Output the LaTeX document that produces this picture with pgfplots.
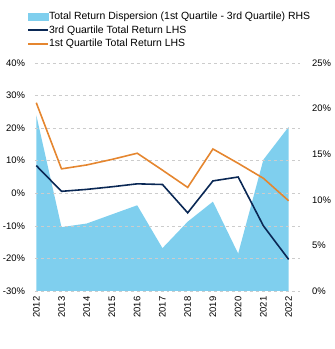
\documentclass[border=0pt]{standalone}
\usepackage{fontspec}
\setmainfont{Liberation Sans}
\usepackage{pgfplots}
\pgfplotsset{compat=1.18}
\definecolor{areablue}{RGB}{127,207,238}
\definecolor{navy}{RGB}{10,40,85}
\definecolor{orng}{RGB}{229,134,47}
\pgfplotsset{
  linelegend/.style={legend image code/.code={\draw[##1] (0bp,0bp) -- (20bp,0bp);}},
  arealegend/.style={legend image code/.code={\fill[areablue] (0bp,-3.4bp) rectangle (19.5bp,3.4bp);}},
}
\pgfplotstableread{
year area q3 q1
2012 19.3 8.5 27.8
2013 7.0 0.6 7.5
2014 7.4 1.2 8.7
2015 8.4 2.0 10.4
2016 9.4 2.9 12.3
2017 4.7 2.7 7.1
2018 7.6 -6.0 1.8
2019 9.8 3.8 13.6
2020 4.1 5.0 9.2
2021 14.4 -10.0 4.6
2022 18.0 -20.3 -2.3
}\datatable
\begin{document}
\begin{tikzpicture}
\path[use as bounding box] (0,0) rectangle (335bp,349bp);
\pgfplotsset{every axis/.style={
  width=265bp, height=228bp, scale only axis,
  at={(35bp,58bp)}, anchor=south west,
  xmin=2011.95, xmax=2022.45,
  font=\fontsize{9.5}{11}\selectfont,
  /pgf/number format/assume math mode=true,
  /pgf/number format/1000 sep={},
  tick style={draw=none},
}}
\begin{axis}[
  axis y line*=right, axis x line=none,
  axis line style={draw=none},
  ymin=0, ymax=25, ytick={0,5,...,25},
  yticklabel={\pgfmathprintnumber{\tick}\%},
  yticklabel style={anchor=west, xshift=8.5bp},
]
\addplot[fill=areablue, draw=none] table[x=year,y=area]{\datatable} \closedcycle;
\end{axis}
\begin{axis}[
  axis y line*=left, axis x line*=bottom,
  axis line style={draw=none},
  ymin=-30, ymax=40, ytick={-30,-20,...,40},
  yticklabel={\pgfmathprintnumber{\tick}\%},
  yticklabel style={anchor=east, xshift=-6.5bp},
  xtick={2012,...,2022},
  xticklabel style={rotate=90, anchor=east, xshift=-2bp},
  ymajorgrids, grid style={dashed, draw=black!20, line width=0.6pt},
  legend style={at={(-0.029,1.228)}, anchor=north west, draw=none, fill=none,
    font=\fontsize{10.5}{12}\selectfont, row sep=3.3bp, inner sep=0pt,
    nodes={inner sep=0pt, text height=8bp, text depth=2.5bp},
    /tikz/every even column/.append style={column sep=2.3bp}},
  legend cell align=left,
]
\addlegendimage{arealegend}
\addlegendentry{Total Return Dispersion (1st Quartile - 3rd Quartile) RHS}
\addplot[navy, line width=1.6pt, mark=none, linelegend] table[x=year,y=q3]{\datatable};
\addlegendentry{3rd Quartile Total Return LHS}
\addplot[orng, line width=1.6pt, mark=none, linelegend] table[x=year,y=q1]{\datatable};
\addlegendentry{1st Quartile Total Return LHS}
\end{axis}
\end{tikzpicture}
\end{document}
